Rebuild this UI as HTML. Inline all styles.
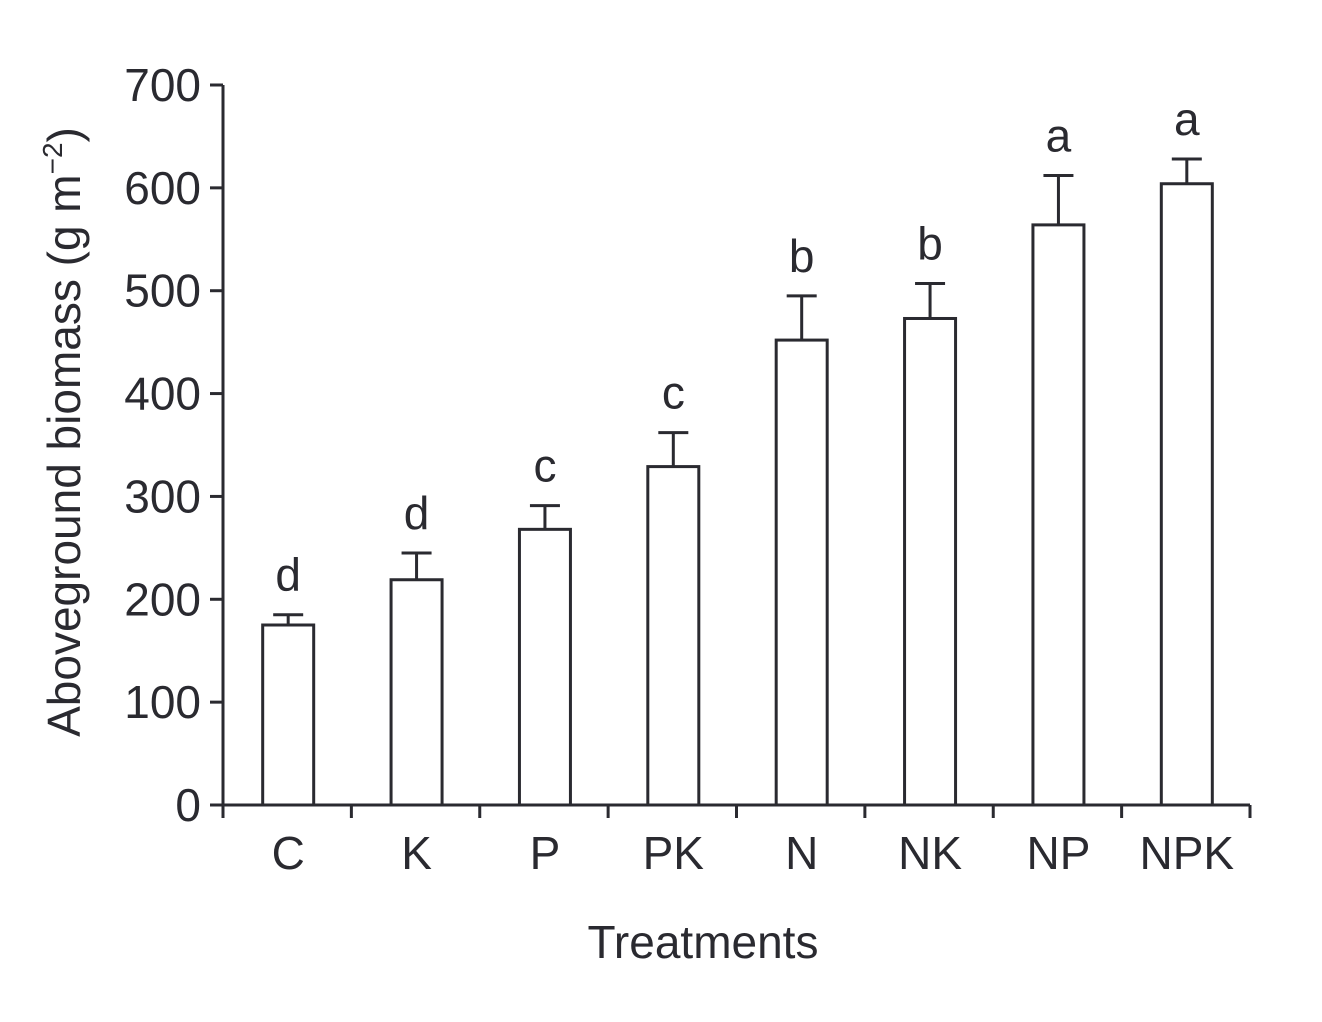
<!DOCTYPE html>
<html><head><meta charset="utf-8"><style>
html,body{margin:0;padding:0;background:#fff;}
svg{display:block;font-family:"Liberation Sans",Arial,sans-serif;}
</style></head><body>
<svg id="chart" width="1322" height="1022" viewBox="0 0 1322 1022" xmlns="http://www.w3.org/2000/svg">
<g id="axes"></g>
<g id="bars"></g>
<text x="703" y="958" font-size="46" fill="#2a2a30" text-anchor="middle">Treatments</text>
<text transform="translate(80,432) rotate(-90)" font-size="46" fill="#2a2a30" text-anchor="middle">Aboveground biomass (g m<tspan font-size="28" dy="-18">−2</tspan><tspan dy="18">)</tspan></text>
</svg>
<script>
const categories=["C","K","P","PK","N","NK","NP","NPK"];
const means=[175,219,268,329,452,473,564,604];
const errors=[10,26,23,33,43,34,48,24];
const letters=["d","d","c","c","b","b","a","a"];
const yTicks=[0,100,200,300,400,500,600,700];
const C="#2a2a30";
const x0=223,x1=1250,y0=805,yTop=85;
const ns="http://www.w3.org/2000/svg";
const band=(x1-x0)/categories.length;
function ys(v){return y0-(v/700)*(y0-yTop);}
function xc(i){return x0+band*(i+0.5);}
function mk(t,a,p){const e=document.createElementNS(ns,t);for(const k in a)e.setAttribute(k,a[k]);p.appendChild(e);return e;}
const ax=document.getElementById('axes'),bg=document.getElementById('bars');
let l=mk('line',{x1:x0,y1:yTop,x2:x0,y2:y0+13,stroke:C,'stroke-width':3},ax);


l=mk('line',{x1:x0-13,y1:y0,x2:x1,y2:y0,stroke:C,'stroke-width':3},ax);


yTicks.forEach(v=>{
 const t=mk('line',{x1:x0-13,y1:ys(v),x2:x0,y2:ys(v),stroke:C,'stroke-width':3},ax);
 
 
 const tx=mk('text',{x:x0-22,y:ys(v)+16,'font-size':46,fill:C,'text-anchor':'end'},ax);
 tx.textContent=v;
 
 
});
for(let i=1;i<=categories.length;i++){
 const t=mk('line',{x1:x0+band*i,y1:y0,x2:x0+band*i,y2:y0+13,stroke:C,'stroke-width':3},ax);
 
 
}
categories.forEach((c,i)=>{
 const cx=xc(i)+1,bw=51;
 const r=mk('rect',{x:cx-bw/2,y:ys(means[i]),width:bw,height:y0-ys(means[i]),fill:'#fff',stroke:C,'stroke-width':3},bg);
 
 
 const et=ys(means[i]+errors[i]);
 const e=mk('path',{d:`M${cx},${ys(means[i])}V${et}M${cx-15},${et}H${cx+15}`,stroke:C,'stroke-width':3,fill:'none'},bg);
 
 
 const lt=mk('text',{x:cx,y:et-24,'font-size':46,fill:C,'text-anchor':'middle'},bg);
 lt.textContent=letters[i];
 
 
 const xl=mk('text',{x:cx,y:869,'font-size':46,fill:C,'text-anchor':'middle'},bg);
 xl.textContent=c;
 
 
});
</script>
</body></html>
